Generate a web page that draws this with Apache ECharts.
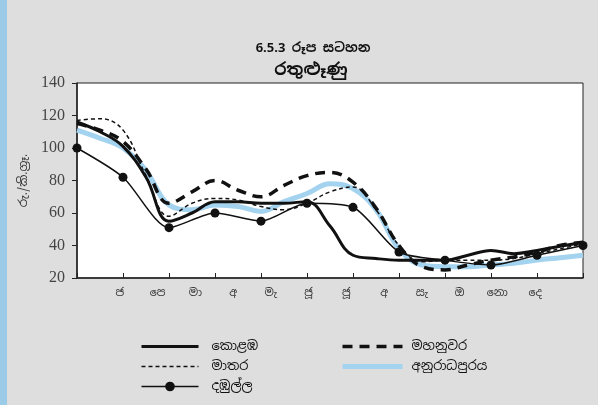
<!DOCTYPE html>
<html>
<head>
<meta charset="utf-8">
<script src="https://cdn.jsdelivr.net/npm/echarts@6/dist/echarts.min.js"></script>
<style>
    html, body { margin: 0; padding: 0; background: #dedede; }
    #chart { width: 598px; height: 405px; }
    #edge { position: absolute; left: 0; top: 0; width: 7px; height: 405px; background: #9ccbe8; }
</style>
</head>
<body>
<div id="chart"></div>
<div id="edge"></div>
<script>
// මාස (x අක්ෂය)
var months = ['ජ', 'පෙ', 'මා', 'අ', 'මැ', 'ජූ', 'ජූ', 'අ', 'සැ', 'ඔ', 'නො', 'දෙ'];
// අඩ මාස ස්ථාන
var halfSteps = [0, 0.5, 1, 1.5, 2, 2.5, 3, 3.5, 4, 4.5, 5, 5.5, 6, 6.5, 7, 7.5, 8, 8.5, 9, 9.5, 10, 10.5, 11];
var monthSteps = [0, 1, 2, 3, 4, 5, 6, 7, 8, 9, 10, 11];

var colombo = [116, 110, 101, 82, 55, 60, 67, 67, 66, 66, 67, 52, 34, 32, 31, 31, 31, 34, 37, 35, 37, 39.5, 42];
var matara = [117, 118, 111, 83, 58, 66, 69, 68, 64, 62, 66, 73, 76, 62, 40, 30, 31, 31, 31, 32, 35, 38, 41];
var dambulla = [100, 82, 51, 60, 55, 66, 63.5, 36, 31, 28, 34, 40];
var kandy = [115, 111, 104, 87, 66, 73, 80, 74, 70, 77, 83, 85, 79, 63, 40, 27, 25, 28, 31, 33, 36, 40, 42];
var anuradhapura = [111, 106, 100, 86, 65, 62, 65, 64, 61, 67, 72, 78, 75, 62, 38, 28, 27, 27, 28, 29, 31, 32.5, 34];

var yTicks = {min: 20, max: 140, step: 20};

function pairs(xs, ys) {
    return ys.map(function (v, i) { return [xs[i], v]; });
}

var sinhala = "'Noto Sans Sinhala', 'Noto Serif Sinhala', 'Noto Sans', sans-serif";
var serif = "'Liberation Serif', 'DejaVu Serif', serif";
var noMark = {opacity: 0};

var chart = echarts.init(document.getElementById('chart'));
var option = {
    backgroundColor: '#dedede',
    animation: false,
    title: [{
        text: '6.5.3 රූප සටහන',
        left: 308,
        top: 37,
        textAlign: 'center',
        textStyle: {fontFamily: sinhala, fontSize: 13, fontWeight: 'bold', color: '#111'}
    }, {
        text: 'රතුළූණු',
        left: 306,
        top: 57,
        textAlign: 'center',
        textStyle: {fontFamily: sinhala, fontSize: 17, fontWeight: 'bold', color: '#111'}
    }],
    legend: [{
        orient: 'vertical',
        left: 135,
        top: 335,
        itemWidth: 57,
        itemHeight: 12,
        itemGap: 7,
        textStyle: {fontFamily: sinhala, fontSize: 13, color: '#111', padding: [0, 0, 0, 8]},
        data: [
            {name: 'කොළඹ', itemStyle: noMark, lineStyle: {width: 3}},
            {name: 'මාතර', itemStyle: noMark, lineStyle: {width: 1.5}},
            {name: 'දඹුල්ල', lineStyle: {width: 1.5}}
        ]
    }, {
        orient: 'vertical',
        left: 335,
        top: 335,
        itemWidth: 60,
        itemHeight: 12,
        itemGap: 7,
        textStyle: {fontFamily: sinhala, fontSize: 13, color: '#111', padding: [0, 0, 0, 4]},
        data: [
            {name: 'මහනුවර', itemStyle: noMark, lineStyle: {width: 3.5}},
            {name: 'අනුරාධපුරය', itemStyle: noMark, lineStyle: {width: 5}}
        ]
    }],
    grid: [{
        left: 77, right: 15, top: 83, bottom: 127,
        show: true, backgroundColor: '#fff', borderColor: '#222', borderWidth: 1
    }, {
        left: 101, width: 453, top: 83, bottom: 127
    }],
    xAxis: [{
        type: 'value',
        gridIndex: 0,
        min: 0, max: 11, interval: 1,
        axisLine: {lineStyle: {color: '#222', width: 1.5}},
        axisTick: {inside: true, length: 5, lineStyle: {color: '#222'}},
        axisLabel: {show: false},
        splitLine: {show: false}
    }, {
        type: 'category',
        gridIndex: 1,
        boundaryGap: true,
        data: months,
        axisLine: {show: false},
        axisTick: {show: false},
        axisLabel: {fontFamily: sinhala, fontSize: 11, color: '#333', margin: 9, interval: 0}
    }],
    yAxis: [{
        type: 'value',
        gridIndex: 0,
        min: yTicks.min, max: yTicks.max, interval: yTicks.step,
        name: 'රු./කි.ග්‍රෑ.',
        nameLocation: 'middle',
        nameRotate: 90,
        nameGap: 40,
        nameTextStyle: {fontFamily: sinhala, fontSize: 12, color: '#333'},
        axisLine: {show: true, lineStyle: {color: '#222', width: 1.5}},
        axisTick: {show: true, length: 5, lineStyle: {color: '#222'}},
        axisLabel: {fontFamily: serif, fontSize: 16, color: '#444', margin: 12},
        splitLine: {show: false}
    }, {
        type: 'value',
        gridIndex: 1,
        min: 0, max: 1,
        show: false
    }],
    series: [{
        name: 'අනුරාධපුරය',
        type: 'line',
        smooth: 0.4,
        symbol: 'none',
        lineStyle: {color: '#a4d3f0', width: 5},
        itemStyle: {color: '#a4d3f0'},
        data: pairs(halfSteps, anuradhapura)
    }, {
        name: 'කොළඹ',
        type: 'line',
        smooth: 0.4,
        symbol: 'none',
        lineStyle: {color: '#111', width: 3},
        itemStyle: {color: '#111'},
        data: pairs(halfSteps, colombo)
    }, {
        name: 'මාතර',
        type: 'line',
        smooth: 0.4,
        symbol: 'none',
        lineStyle: {color: '#111', width: 1.5, type: [4, 3]},
        itemStyle: {color: '#111'},
        data: pairs(halfSteps, matara)
    }, {
        name: 'මහනුවර',
        type: 'line',
        smooth: 0.4,
        symbol: 'none',
        lineStyle: {color: '#111', width: 3.5, type: [10, 7]},
        itemStyle: {color: '#111'},
        data: pairs(halfSteps, kandy)
    }, {
        name: 'දඹුල්ල',
        type: 'line',
        smooth: 0.25,
        symbol: 'circle',
        symbolSize: 9,
        lineStyle: {color: '#111', width: 1.5},
        itemStyle: {color: '#111'},
        data: pairs(monthSteps, dambulla)
    }]
};
chart.setOption(option);
</script>
</body>
</html>
